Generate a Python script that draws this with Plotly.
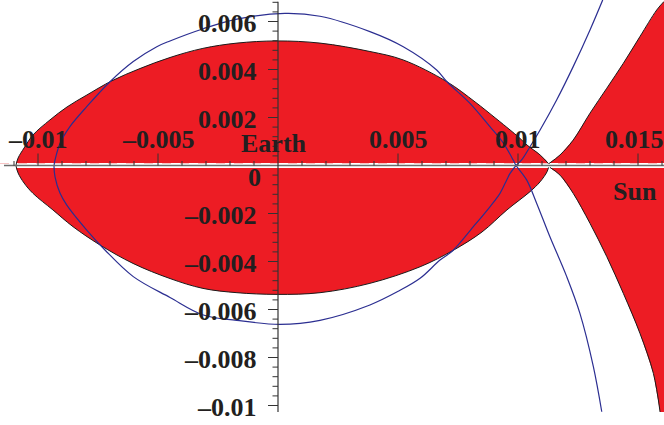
import plotly.graph_objects as go

# ---------------- data (in plot units) ----------------
# upper / lower boundary of the red lens around Earth (left -> right)
lens_up_x = [-0.01092, -0.01083, -0.01058, -0.01021, -0.00950, -0.00879, -0.00796, -0.00692,
             -0.00575, -0.00450, -0.00313, -0.00171, -0.00004, 0.00175, 0.00383, 0.00521,
             0.00704, 0.00821, 0.00908, 0.00967, 0.01004, 0.01038, 0.01092, 0.01127]
lens_up_y = [0.0, 0.00031, 0.00073, 0.00127, 0.00190, 0.00244, 0.00294, 0.00353,
             0.00404, 0.00450, 0.00488, 0.00510, 0.00519, 0.00510, 0.00475, 0.00440,
             0.00349, 0.00265, 0.00196, 0.00148, 0.00117, 0.00085, 0.00044, 0.00008]
lens_lo_x = [-0.01092, -0.01083, -0.01058, -0.01021, -0.00938, -0.00854, -0.00742, -0.00604,
             -0.00450, -0.00313, -0.00171, -0.00004, 0.00175, 0.00383, 0.00592, 0.00729,
             0.00850, 0.00954, 0.01050, 0.01092, 0.01121, 0.01127]
lens_lo_y = [0.0, -0.00031, -0.00073, -0.00116, -0.00185, -0.00255, -0.00331, -0.00408,
             -0.00471, -0.00512, -0.00530, -0.00537, -0.00530, -0.00491, -0.00422, -0.00354,
             -0.00277, -0.00185, -0.00109, -0.00068, -0.00026, -0.00008]

# boundary of the red region on the Sun side (from the neck outward)
sun_up_x = [0.01129, 0.01175, 0.01230, 0.01300, 0.01370, 0.01439, 0.01508, 0.01578, 0.01608]
sun_up_y = [0.00008, 0.00044, 0.00106, 0.00218, 0.00322, 0.00426, 0.00537, 0.00648, 0.00683]
sun_lo_x = [0.01133, 0.01175, 0.01230, 0.01300, 0.01370, 0.01439, 0.01508, 0.01564, 0.01592]
sun_lo_y = [-0.00008, -0.00040, -0.00116, -0.00241, -0.00380, -0.00533, -0.00699, -0.00866, -0.01027]

# blue curve (one continuous path: upper-right tail, loop, lower-right tail)
blue_x = [0.01353, 0.01300, 0.01230, 0.01161, 0.01092, 0.01050, 0.01015, 0.00992,
          0.00967, 0.00953, 0.00925, 0.00883, 0.00814, 0.00729, 0.00675, 0.00592,
          0.00503, 0.00383, 0.00175, 0.00008, -0.00172, -0.00311, -0.00450, -0.00603,
          -0.00721, -0.00797, -0.00880, -0.00908, -0.00929, -0.00933, -0.00929, -0.00908,
          -0.00867, -0.00797, -0.00700, -0.00603, -0.00505, -0.00450, -0.00311, -0.00171,
          0.00029, 0.00175, 0.00383, 0.00522, 0.00661, 0.00704, 0.00800, 0.00883,
          0.00939, 0.00980, 0.00992, 0.01036, 0.01078, 0.01133, 0.01203, 0.01258,
          0.01314, 0.01349]
blue_y = [0.00690, 0.00565, 0.00412, 0.00273, 0.00148, 0.00078, 0.00023, 0.0,
          -0.00033, -0.00060, -0.00116, -0.00172, -0.00255, -0.00354, -0.00394, -0.00470,
          -0.00523, -0.00581, -0.00645, -0.00662, -0.00645, -0.00623, -0.00550, -0.00463,
          -0.00352, -0.00269, -0.00165, -0.00116, -0.00047, 0.0, 0.00023, 0.00093,
          0.00162, 0.00245, 0.00349, 0.00433, 0.00495, 0.00519, 0.00570, 0.00610,
          0.00634, 0.00622, 0.00558, 0.00495, 0.00398, 0.00349, 0.00259, 0.00162,
          0.00093, 0.00023, 0.0, -0.00060, -0.00158, -0.00297, -0.00463, -0.00616,
          -0.00838, -0.01026]

# ticks and labels
x_major = [-0.01, -0.005, 0.005, 0.01, 0.015]
x_major_labels = ["–0.01", "–0.005", "0.005", "0.01", "0.015"]
x_minor = [-0.011, -0.009, -0.008, -0.007, -0.006, -0.004, -0.003, -0.002, -0.001,
           0.001, 0.002, 0.003, 0.004, 0.006, 0.007, 0.008, 0.009, 0.011, 0.012,
           0.013, 0.014, 0.016]
y_major = [0.006, 0.004, 0.002, -0.002, -0.004, -0.006, -0.008, -0.01]
y_major_labels = ["0.006", "0.004", "0.002", "–0.002", "–0.004", "–0.006", "–0.008", "–0.01"]
y_minor = [0.0068, 0.0064, 0.0056, 0.0052, 0.0048, 0.0044, 0.0036, 0.0032, 0.0028, 0.0024,
           0.0016, 0.0012, 0.0008, 0.0004, -0.0004, -0.0008, -0.0012, -0.0016, -0.0024,
           -0.0028, -0.0032, -0.0036, -0.0044, -0.0048, -0.0052, -0.0056, -0.0064,
           -0.0068, -0.0072, -0.0076, -0.0084, -0.0088, -0.0092, -0.0096]

# ---------------- styling / geometry ----------------
PX = 1.0 / 24000.0           # one screen pixel in plot units
X_RANGE = [-278 * PX, 386 * PX]
Y_RANGE = [-259.5 * PX, 165.5 * PX]
RED = "#ED1C24"
BLUE = "#2B2E91"
INK = "#231F20"
FONT = dict(family="Liberation Serif, Times New Roman, serif", size=26, color=INK)
SPL = dict(shape="spline", smoothing=1.0)

fig = go.Figure()

# red regions (fills without outline)
fig.add_trace(go.Scatter(x=lens_up_x + lens_lo_x[::-1], y=lens_up_y + lens_lo_y[::-1],
                         mode="lines", fill="toself", fillcolor=RED,
                         line=dict(width=0, color=RED, **SPL), hoverinfo="skip"))
fig.add_trace(go.Scatter(x=sun_up_x + [0.0170, 0.0170] + sun_lo_x[::-1],
                         y=sun_up_y + [0.0075, -0.01027] + sun_lo_y[::-1],
                         mode="lines", fill="toself", fillcolor=RED,
                         line=dict(width=0, color=RED), hoverinfo="skip"))

# white band under the horizontal axis
fig.add_trace(go.Scatter(x=[X_RANGE[0], X_RANGE[1]], y=[0, 0], mode="lines",
                         line=dict(color="white", width=5), hoverinfo="skip"))
fig.add_trace(go.Scatter(x=[X_RANGE[0], X_RANGE[1]], y=[2 * PX, 2 * PX], mode="lines",
                         line=dict(color="#F6B8B8", width=0.8, dash="dash"), hoverinfo="skip"))

# black boundaries of the red regions
for bx, by in [(lens_up_x, lens_up_y), (lens_lo_x, lens_lo_y),
               (sun_up_x, sun_up_y), (sun_lo_x, sun_lo_y)]:
    fig.add_trace(go.Scatter(x=bx, y=by, mode="lines",
                             line=dict(color="#1a1a1a", width=1, **SPL), hoverinfo="skip"))

# blue curve
fig.add_trace(go.Scatter(x=blue_x, y=blue_y, mode="lines",
                         line=dict(color=BLUE, width=1.2, **SPL), hoverinfo="skip"))

# axes lines
fig.add_trace(go.Scatter(x=[-274 * PX, X_RANGE[1]], y=[0, 0], mode="lines",
                         line=dict(color="#6d6d6d", width=1.5), hoverinfo="skip"))
fig.add_trace(go.Scatter(x=[0, 0], y=[-246.5 * PX, 163.8 * PX], mode="lines",
                         line=dict(color="#333333", width=1.2), hoverinfo="skip"))

# ticks
tx, ty = [], []
for v in x_major:
    tx += [v, v, None]
    ty += [0, 12 * PX, None]
for v in x_minor:
    tx += [v, v, None]
    ty += [0, 4.5 * PX, None]
for v in y_major:
    tx += [0, -10 * PX, None]
    ty += [v, v, None]
for v in y_minor:
    tx += [0, -5.5 * PX, None]
    ty += [v, v, None]
fig.add_trace(go.Scatter(x=tx, y=ty, mode="lines",
                         line=dict(color="#333333", width=1), hoverinfo="skip"))

# tick labels
annotations = []
for v, t in zip(x_major, x_major_labels):
    xv = v if v < 0.014 else v - 4 * PX
    annotations.append(dict(x=xv, y=26 * PX, text="<b>%s</b>" % t, showarrow=False,
                            xanchor="center", yanchor="middle", font=FONT))
for v, t in zip(y_major, y_major_labels):
    annotations.append(dict(x=-19 * PX, y=v - 2 * PX, text="<b>%s</b>" % t, showarrow=False,
                            xanchor="right", yanchor="middle", font=FONT))
annotations.append(dict(x=-15 * PX, y=-12 * PX, text="<b>0</b>", showarrow=False,
                        xanchor="right", yanchor="middle", font=FONT))
annotations.append(dict(x=-4 * PX, y=22.5 * PX, text="<b>Earth</b>", showarrow=False,
                        xanchor="center", yanchor="middle", font=FONT))
annotations.append(dict(x=357 * PX, y=-25.5 * PX, text="<b>Sun</b>", showarrow=False,
                        xanchor="center", yanchor="middle", font=FONT))

fig.update_layout(
    width=664, height=425,
    margin=dict(l=0, r=0, t=0, b=0),
    paper_bgcolor="white", plot_bgcolor="white",
    showlegend=False,
    xaxis=dict(range=X_RANGE, visible=False, fixedrange=True),
    yaxis=dict(range=Y_RANGE, visible=False, fixedrange=True),
    annotations=annotations,
)

fig.write_html("out.html", config={"displayModeBar": False},
               post_script="document.body.style.margin='0';document.body.style.overflow='hidden';")
